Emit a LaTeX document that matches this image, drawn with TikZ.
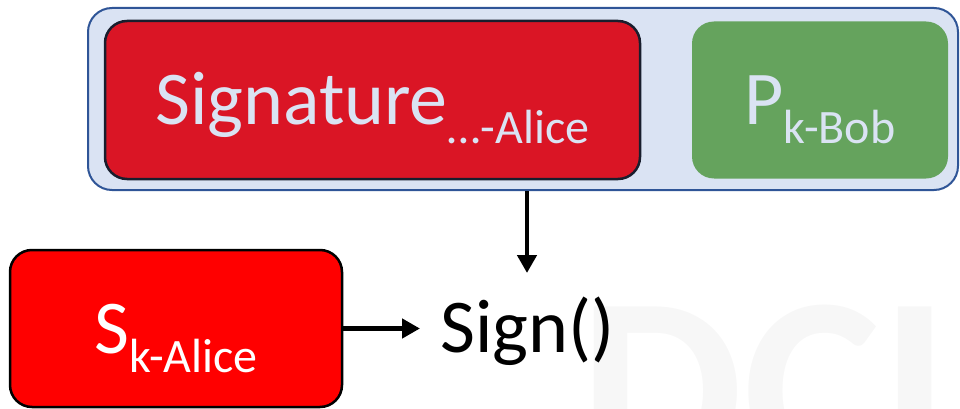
\documentclass[tikz,border=0pt]{standalone}
\usepackage{fontspec}
\setmainfont{Carlito}
\usetikzlibrary{arrows.meta, positioning}

\definecolor{paleblue}{RGB}{218,227,243}
\definecolor{frameblue}{RGB}{47,85,151}
\definecolor{sigred}{RGB}{218,21,37}
\definecolor{keygreen}{RGB}{101,163,93}
\definecolor{edgedark}{RGB}{25,30,45}

\newcommand{\keyfont}{\fontsize{76}{90}\selectfont}
\newcommand{\keysub}[1]{\raisebox{-19pt}{\fontsize{48}{56}\selectfont #1}}

\begin{document}
\begin{tikzpicture}[
    x=1pt, y=-1pt,
    keybox/.style={rounded corners=22pt, inner sep=0pt, font=\keyfont,
                   text height=62pt, text depth=13pt},
    >={Triangle[length=18pt, width=19pt]}
  ]
    \useasboundingbox (0,0) rectangle (960,409);
    \clip (0,0) rectangle (960,409);
    % faint watermark
    \node[anchor=base west, inner sep=0pt, text=gray!6,
          font=\fontsize{260}{300}\selectfont\bfseries] (mark) at (579,475) {DCI};

    \node[draw=frameblue, fill=paleblue, line width=2pt, rounded corners=24pt,
          minimum width=870pt, minimum height=182pt] (msg) at (523,99) {};
    \node[keybox, draw=edgedark, fill=sigred, line width=2.5pt, text=paleblue,
          minimum width=535pt, minimum height=158pt] (sig) at (372.5,100)
          {Signature\keysub{\dots-Alice}};
    \node[keybox, fill=keygreen, text=paleblue,
          minimum width=256pt, minimum height=157pt] (pub) at (820,100)
          {P\keysub{k-Bob}};

    \node[keybox, draw=black, fill=red, line width=2.5pt, text=white,
          minimum width=332pt, minimum height=157pt] (priv) at (176,328.5)
          {S\keysub{k-Alice}};
    \node[anchor=base west, inner xsep=20pt, inner ysep=0pt, font=\keyfont] (sign) at (420,352) {Sign()};

    \coordinate (tip) at (527,273);
    \draw[->, line width=4.5pt] (tip |- msg.south) -- (tip);
    \draw[->, line width=4.5pt] (priv.east) -- (priv.east -| sign.west);
  \end{tikzpicture}
\end{document}
